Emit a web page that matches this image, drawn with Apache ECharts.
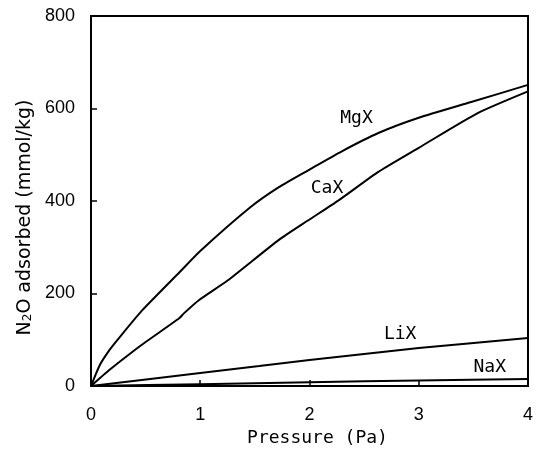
<!DOCTYPE html>
<html>
<head>
<meta charset="utf-8">
<script src="https://cdn.jsdelivr.net/npm/echarts@6/dist/echarts.min.js"></script>
<style>
  html, body { margin: 0; padding: 0; background: #fff; }
  #chart { width: 536px; height: 454px; }
</style>
</head>
<body>
<div id="chart"></div>
<script>
// 数据（从图上读出来的估计值）
const mgX = [[0, 0], [0.08, 45], [0.17, 78], [0.25, 102], [0.47, 164], [0.81, 246], [1, 292], [1.45, 385], [1.72, 430], [2, 468], [2.3, 508], [2.63, 547], [3, 580], [3.48, 614], [4, 651]];
const caX = [[0, 0], [0.17, 35], [0.33, 65], [0.5, 95], [0.81, 147], [0.85, 157], [0.99, 186], [1.25, 228], [1.72, 316], [2, 360], [2.27, 402], [2.63, 463], [3, 515], [3.54, 590], [4, 637]];
const liX = [[0, 0], [1, 28], [1.54, 43], [2, 56], [3, 82], [4, 104]];
const naX = [[0, 0], [1, 4], [2, 8], [3, 12], [4, 15]];
const seriesNames = ["MgX", "CaX", "LiX", "NaX"];
// 标签位置（数据坐标）
const labelPos = [[2.43, 578], [2.16, 427], [2.83, 112], [3.65, 40]];

const chart = echarts.init(document.getElementById("chart"), null, { renderer: "canvas" });

const font = "Liberation Sans, Arial, sans-serif";
const wideFont = "DejaVu Sans, sans-serif";
const monoFont = "DejaVu Sans Mono, monospace";

const allData = [mgX, caX, liX, naX];
const series = allData.map((d, i) => ({
  name: seriesNames[i],
  type: "line",
  data: d,
  smooth: 0.2,
  symbol: "none",
  lineStyle: { color: "#000", width: 2 },
  markPoint: {
    symbol: "circle",
    symbolSize: 0,
    data: [{ coord: labelPos[i] }],
    label: {
      show: true,
      formatter: seriesNames[i],
      color: "#000",
      fontSize: 18,
      fontFamily: monoFont
    }
  }
}));

chart.setOption({
  animation: false,
  grid: { left: 91, right: 6, top: 16, bottom: 68, show: true, borderColor: "#000", borderWidth: 2 },
  xAxis: {
    type: "value",
    min: 0,
    max: 4,
    interval: 1,
    name: "Pressure (Pa)",
    nameLocation: "middle",
    nameGap: 43,
    nameTextStyle: { fontSize: 18, color: "#000", fontFamily: monoFont, padding: [0, 0, 0, 16] },
    axisLine: { lineStyle: { color: "#000", width: 2 } },
    axisTick: { inside: true, length: 6, lineStyle: { color: "#000", width: 1.5 } },
    axisLabel: { fontSize: 18, color: "#000", fontFamily: font, margin: 20 },
    splitLine: { show: false }
  },
  yAxis: {
    type: "value",
    min: 0,
    max: 800,
    interval: 200,
    name: "{a|N}{s|2}{a|O adsorbed (mmol/kg)}",
    nameLocation: "middle",
    nameGap: 54,
    nameTextStyle: {
      color: "#000",
      padding: [0, 33, 0, 0],
      rich: {
        a: { fontSize: 19, fontFamily: wideFont, color: "#000" },
        s: { fontSize: 12, fontFamily: wideFont, color: "#000", verticalAlign: "bottom", padding: [6, 0, 0, 0] }
      }
    },
    axisLine: { lineStyle: { color: "#000", width: 2 } },
    axisTick: { inside: true, length: 6, lineStyle: { color: "#000", width: 1.5 } },
    axisLabel: { fontSize: 18, color: "#000", fontFamily: font, margin: 16, padding: [5, 0, 0, 0] },
    splitLine: { show: false }
  },
  series: series
});
</script>
</body>
</html>
